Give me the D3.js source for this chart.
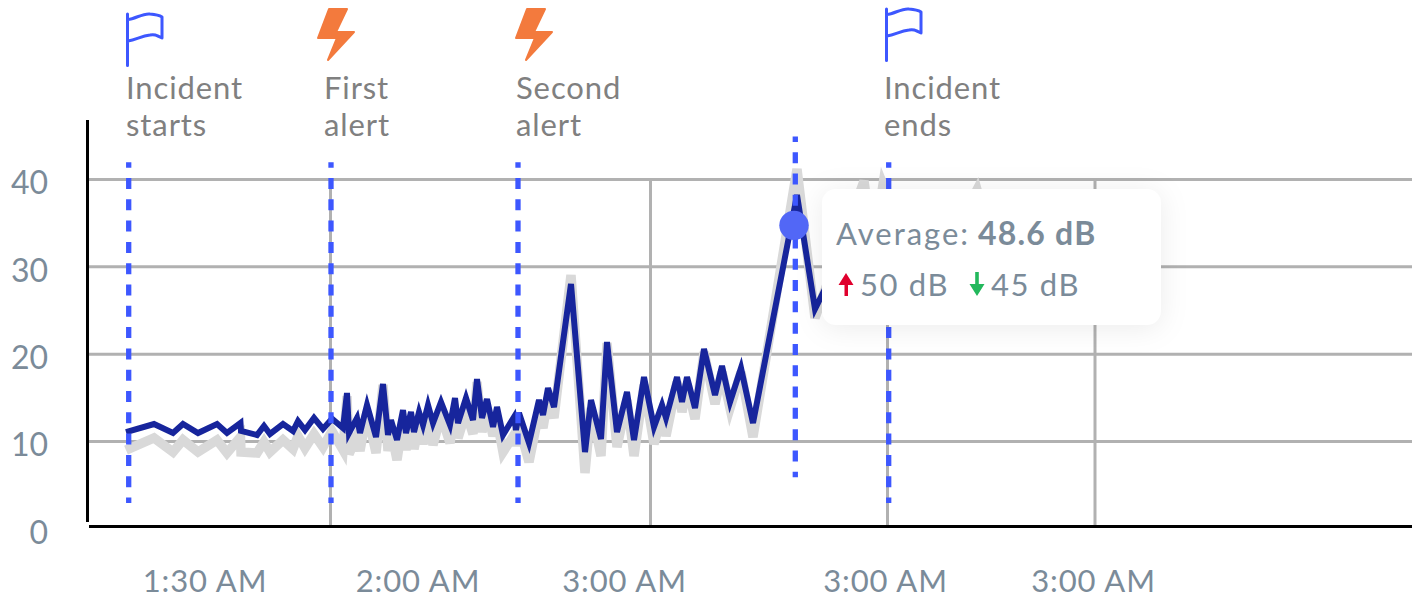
<!DOCTYPE html>
<html>
<head>
<meta charset="utf-8">
<script src="https://cdn.jsdelivr.net/npm/d3@7"></script>
<style>
  html, body { margin: 0; padding: 0; background: #fff; }
  svg { display: block; }
  text { font-family: Lato, "Open Sans", sans-serif; }
</style>
</head>
<body>
<div id="chart"></div>
<script>
// x readings are in chart units counted from the y axis
var sampleTimes = [38, 66, 85, 95, 110, 129, 139, 152.5, 153, 169, 176, 182, 195, 205, 210, 217, 226, 235, 244,
  255, 259, 261, 269, 272, 279, 288, 295, 300, 303, 309, 315, 318, 323, 326, 331, 335, 340, 345, 353, 362, 367,
  370, 378, 385, 389, 394, 399, 405, 409, 415, 426, 428, 431, 441, 451, 455, 460, 466, 483, 497, 503, 513, 519,
  529, 539, 546, 556, 566, 574, 578, 589, 594, 599, 607, 616, 627, 634, 642, 653, 665, 709, 727, 776, 785, 795,
  837, 889, 917, 962];

var averageValues = [11.08, 12.0, 10.97, 12.0, 10.97, 12.0, 10.97, 12.11, 11.2, 10.74, 11.77, 10.86, 12.0, 11.2, 12.34, 11.31, 12.69, 11.43, 12.6,
  11.54, 15.55, 10.97, 12.69, 10.97, 14.18, 10.51, 16.58, 10.74, 12.46, 10.17, 13.6, 10.97, 13.37, 11.08, 13.37, 11.89, 14.18, 12.11, 14.52, 11.89, 14.98,
  12.11, 14.98, 12.46, 17.15, 12.69, 14.86, 11.66, 13.95, 10.74, 12.8, 11.31, 13.26, 9.82, 14.75, 13.03, 16.12, 13.95, 28.03, 8.79, 14.75, 10.28, 21.39,
  11.08, 15.66, 10.17, 17.38, 11.66, 14.18, 12.69, 17.38, 14.52, 17.38, 13.83, 20.59, 15.32, 18.64, 14.52, 18.41, 12.11, 38.22, 25.17, 36.5, 30.56, 35.93,
  27.34, 34.79, 27.34, 30.56];

var baselineValues = [9.02, 10.4, 8.79, 10.17, 8.79, 10.17, 8.68, 10.51, 8.79, 8.68, 9.94, 8.79, 10.17, 9.14, 10.63, 9.25, 10.86, 9.37, 11.2,
  9.02, 15.2, 8.57, 10.63, 8.91, 13.37, 8.68, 16.47, 8.91, 11.31, 7.88, 12.46, 9.02, 12.46, 9.14, 11.89, 9.71, 12.69, 9.6, 13.03, 9.82, 13.37,
  10.4, 13.37, 10.86, 16.81, 11.08, 13.6, 10.63, 12.46, 8.79, 10.74, 9.48, 11.77, 7.65, 13.37, 11.54, 14.98, 12.69, 29.06, 6.39, 13.83, 8.34, 21.28,
  9.37, 14.75, 8.34, 16.47, 9.71, 13.03, 10.63, 16.81, 13.37, 16.58, 12.57, 20.24, 14.29, 17.95, 13.83, 17.95, 10.51, 41.2, 24.14, 39.83, 31.92, 39.4,
  27.34, 38.8, 27.34, 29.6];

var yTicks = [0, 10, 20, 30, 40];
var gridTimes = [242.5, 562.5, 799.5, 1007];
var xTickTimes = [116.5, 329.5, 536, 797, 1005];
var xTickLabels = ["1:30 AM", "2:00 AM", "3:00 AM", "3:00 AM", "3:00 AM"];

var markerTimes = [40.7, 243, 430, 707.3, 800.7];
var markerTop = [41.97, 41.97, 41.97, 44.92, 41.97];
var markerBottom = [2.95, 2.95, 2.95, 5.9, 2.95];

var eventLabels = [["Incident", "starts"], ["First", "alert"], ["Second", "alert"], ["Incident", "ends"]];
var eventLabelX = [126, 324, 516, 884];
var eventIcons = ["flag", "bolt", "bolt", "flag"];
var eventIconX = [126, 316, 514, 885];
var eventIconY = [13, 8, 8, 8];

var hoverTime = 706;
var hoverValue = 34.75;
var tooltipTitle = "Average:";
var tooltipValue = "48.6 dB";
var tooltipHigh = "50 dB";
var tooltipLow = "45 dB";

const width = 1422, height = 599;
const svg = d3.select('#chart').append('svg')
  .attr("width", width)
  .attr("height", height);

const x = d3.scaleLinear().domain([0, 1324]).range([88, 1412]);
const y = d3.scaleLinear().domain([0, 40]).range([528.8, 179.5]);

const tickColor = "#7b8b99";
const gridColor = "#b1b1b1";
const markerColor = "#3d57ff";

// Grid
svg.append('g').selectAll('line').data(yTicks.filter(d => d > 0)).join('line')
  .attr("x1", x(0)).attr("x2", x(1324))
  .attr("y1", d => y(d)).attr("y2", d => y(d))
  .style("stroke", gridColor).style("stroke-width", 3);
svg.append('g').selectAll('line').data(gridTimes).join('line')
  .attr("x1", d => x(d)).attr("x2", d => x(d))
  .attr("y1", y(40)).attr("y2", 526)
  .style("stroke", gridColor).style("stroke-width", 3);

// Axes
const yAxis = svg.append("g")
  .attr("transform", "translate(88,0)")
  .call(d3.axisLeft(y).tickValues(yTicks).tickSize(0).tickPadding(40).tickFormat(d => d));
yAxis.select(".domain").remove();
yAxis.selectAll("text").attr("dy", "0.45em").style("font-size", "32px").style("fill", tickColor);

const xAxis = svg.append("g")
  .attr("transform", "translate(0,526)")
  .call(d3.axisBottom(x).tickValues(xTickTimes).tickSize(0).tickPadding(43.5).tickFormat((d, i) => xTickLabels[i]));
xAxis.select(".domain").remove();
xAxis.selectAll("text").attr("dy", "0.71em").style("font-size", "31px").style("letter-spacing", "0.9px").style("fill", tickColor);

svg.append("line").attr("x1", 87.5).attr("x2", 87.5).attr("y1", 120).attr("y2", 522)
  .style("stroke", "#000").style("stroke-width", 3);
svg.append("line").attr("x1", 89).attr("x2", 1412).attr("y1", 526.5).attr("y2", 526.5)
  .style("stroke", "#000").style("stroke-width", 3);

// Series
const line = d3.line().x((d, i) => x(sampleTimes[i])).y(d => y(d));
svg.append("path").attr("d", line(baselineValues))
  .style("fill", "none").style("stroke", "#d9d9d9").style("stroke-width", 9.5);
svg.append("path").attr("d", line(averageValues))
  .style("fill", "none").style("stroke", "#17259c").style("stroke-width", 6);

// Dotted event markers
svg.append('g').selectAll('line').data(markerTimes).join('line')
  .attr("x1", d => x(d)).attr("x2", d => x(d))
  .attr("y1", (d, i) => y(markerTop[i])).attr("y2", (d, i) => y(markerBottom[i]))
  .style("stroke", markerColor).style("stroke-width", 5.3)
  .style("stroke-dasharray", "11 10.3").style("stroke-dashoffset", 5.6);

// Event icons and labels
const flagPath = "M1.5 1V52.5M2 6.5C9 6 17 0 24 1C30 1.5 33 2 36 4V25C30 22 28 21 24 22C15 23 10 27 2 28";
const boltPath = "M13 1H31L20 24H38L12 52L21 30H2Z";
eventIcons.forEach((icon, i) => {
  const g = svg.append("g").attr("transform", `translate(${eventIconX[i]},${eventIconY[i]})`);
  if (icon == "flag") {
    g.append("path").attr("d", flagPath)
      .style("fill", "none").style("stroke", markerColor).style("stroke-width", 3)
      .style("stroke-linecap", "round").style("stroke-linejoin", "round");
  } else {
    g.append("path").attr("d", boltPath)
      .style("fill", "#f37a3d").style("stroke", "#f37a3d").style("stroke-width", 2)
      .style("stroke-linejoin", "round");
  }
  const label = svg.append("text").attr("x", eventLabelX[i]).attr("y", 99)
    .style("font-size", "31px").style("letter-spacing", "0.9px").style("fill", "#808080");
  eventLabels[i].forEach((t, j) => {
    label.append("tspan").attr("x", eventLabelX[i]).attr("dy", j ? 37 : 0).text(t);
  });
});

// Tooltip
svg.append("rect").attr("x", 822).attr("y", 189).attr("width", 339).attr("height", 136).attr("rx", 14)
  .style("fill", "#fff").style("filter", "drop-shadow(0 3px 14px rgba(0,0,0,0.08))");

svg.append("circle").attr("cx", x(hoverTime)).attr("cy", y(hoverValue)).attr("r", 14.7)
  .style("fill", "#5267f6");

svg.append("text").attr("x", 836).attr("y", 245)
  .style("font-size", "31px").style("letter-spacing", "2px").style("fill", tickColor).text(tooltipTitle);
svg.append("text").attr("x", 978).attr("y", 245)
  .style("font-size", "32px").style("letter-spacing", "1.2px").style("font-weight", 700).style("fill", tickColor).text(tooltipValue);

svg.append("path").attr("d", "M846 273L853.5 285H848V296H844.5V285H838.5Z").style("fill", "#e0002d");
svg.append("path").attr("d", "M977 296L969.5 284H975.2V272H978.8V284H984.5Z").style("fill", "#23b85c");
svg.append("text").attr("x", 860).attr("y", 295.5)
  .style("font-size", "31px").style("letter-spacing", "1.6px").style("fill", tickColor).text(tooltipHigh);
svg.append("text").attr("x", 991).attr("y", 295.5)
  .style("font-size", "31px").style("letter-spacing", "1.6px").style("fill", tickColor).text(tooltipLow);
</script>
</body>
</html>
